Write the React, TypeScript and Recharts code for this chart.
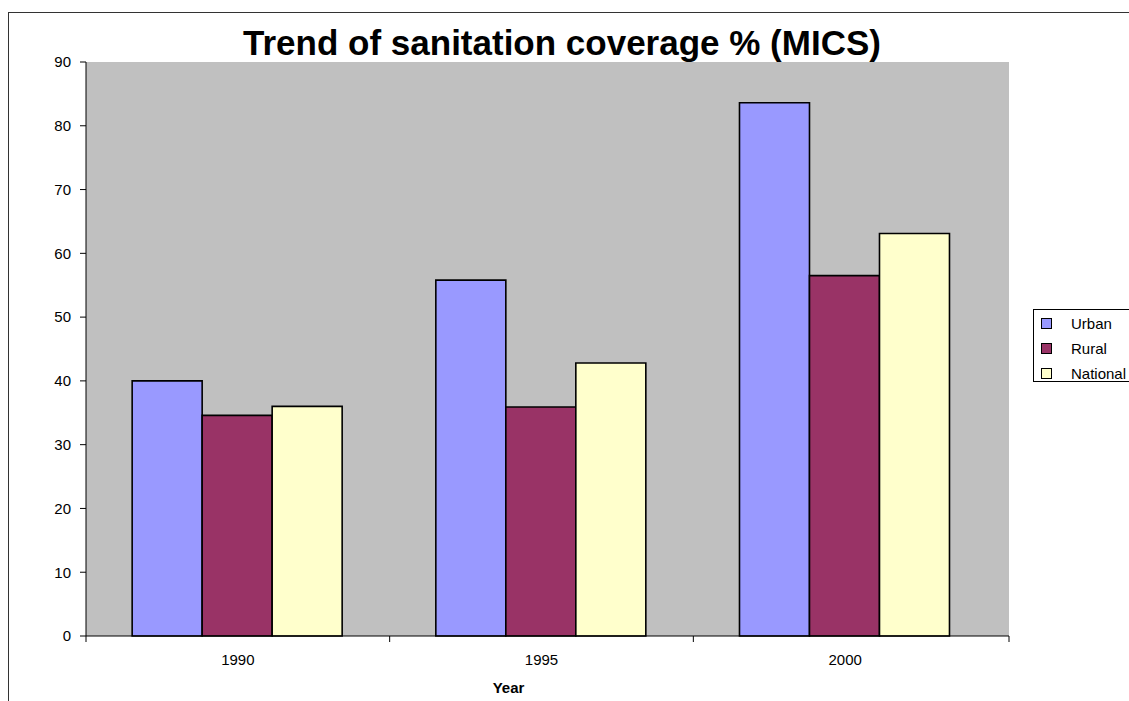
import React from 'react';
import { BarChart, Bar, XAxis, YAxis, CartesianGrid } from 'recharts';

// Sanitation coverage (%) by survey year
const years = ['1990', '1995', '2000'];
const urban = [40.0, 55.8, 83.6];
const rural = [34.6, 35.9, 56.5];
const national = [36.0, 42.8, 63.1];
const yTicks = [0, 10, 20, 30, 40, 50, 60, 70, 80, 90];

const series = [
  { key: 'urban', name: 'Urban', color: '#9999FF' },
  { key: 'rural', name: 'Rural', color: '#993366' },
  { key: 'national', name: 'National', color: '#FFFFCC' },
];

const data = years.map((year, i) => ({
  year,
  urban: urban[i],
  rural: rural[i],
  national: national[i],
}));

const W = 1129;
const H = 701;
const MARGIN = { top: 62, right: 120, bottom: 0, left: 0 };
const Y_AXIS_W = 86;
const X_AXIS_H = 65;
const PAD_RIGHT = 12;
const PLOT_W = W - MARGIN.left - MARGIN.right - Y_AXIS_W;
const BAND = (PLOT_W - PAD_RIGHT) / years.length;
const FONT = '"Liberation Sans", Arial, Helvetica, sans-serif';

// Category tick: marks sit on the boundaries between categories, label in the middle
function YearTick(props: any) {
  const { x, y, payload, index, visibleTicksCount } = props;
  const left = x - BAND / 2;
  const right = x + BAND / 2 + PAD_RIGHT;
  return (
    <g>
      <line x1={left} x2={left} y1={y} y2={y + 6} stroke="#000" strokeWidth={1} />
      {index === visibleTicksCount - 1 && (
        <line x1={right} x2={right} y1={y} y2={y + 6} stroke="#000" strokeWidth={1} />
      )}
      <text x={x} y={y + 29} textAnchor="middle" fontSize={15} fill="#000" fontFamily={FONT}>
        {payload.value}
      </text>
    </g>
  );
}

export default function App() {
  return (
    <div
      style={{
        position: 'relative',
        width: W,
        height: H,
        overflow: 'hidden',
        background: '#fff',
        fontFamily: FONT,
      }}
    >
      <style>{'body{margin:0}'}</style>
      <div
        style={{
          position: 'absolute',
          left: 8,
          top: 12,
          width: W + 50,
          height: H + 50,
          borderLeft: '1px solid #333',
          borderTop: '1px solid #333',
        }}
      />
      <div
        style={{
          position: 'absolute',
          left: 0,
          top: 0,
          width: W,
        }}
      >
        <BarChart
          width={W}
          height={H}
          data={data}
          margin={MARGIN}
          barCategoryGap="15.2%"
          barGap={0}
        >
          <CartesianGrid fill="#C0C0C0" vertical={false} horizontal={false} />
          <XAxis
            dataKey="year"
            height={X_AXIS_H}
            padding={{ left: 0, right: PAD_RIGHT }}
            axisLine={{ stroke: '#000', strokeWidth: 1 }}
            tickLine={false}
            tickSize={0}
            tickMargin={0}
            tick={<YearTick />}
            interval={0}
            label={{
              value: 'Year',
              position: 'insideBottom',
              offset: 8,
              dx: -39,
              fontSize: 15,
              fontWeight: 'bold',
              fill: '#000',
              fontFamily: FONT,
            }}
          />
          <YAxis
            width={Y_AXIS_W}
            domain={[0, 90]}
            ticks={yTicks}
            interval={0}
            axisLine={{ stroke: '#000', strokeWidth: 1 }}
            tickLine={{ stroke: '#000', strokeWidth: 1 }}
            tickSize={6}
            tickMargin={9}
            tick={{ fontSize: 15, fill: '#000', fontFamily: FONT }}
          />
          {series.map((s) => (
            <Bar
              key={s.key}
              dataKey={s.key}
              name={s.name}
              fill={s.color}
              stroke="#000"
              strokeWidth={1.6}
              isAnimationActive={false}
            />
          ))}
        </BarChart>
      </div>
      <div
        style={{
          position: 'absolute',
          left: 0,
          width: 1124,
          top: 25,
          textAlign: 'center',
          fontSize: 35,
          fontWeight: 'bold',
          lineHeight: 1,
          color: '#000',
          whiteSpace: 'nowrap',
        }}
      >
        Trend of sanitation coverage % (MICS)
      </div>
      <div
        style={{
          position: 'absolute',
          left: 1033,
          top: 309,
          width: 160,
          height: 73,
          border: '1px solid #000',
          background: '#fff',
          boxSizing: 'border-box',
        }}
      >
        {series.map((s, i) => (
          <div
            key={s.key}
            style={{
              position: 'absolute',
              left: 0,
              top: 4 + i * 25,
              height: 18,
              display: 'flex',
              alignItems: 'center',
              fontSize: 15,
              color: '#000',
              whiteSpace: 'nowrap',
            }}
          >
            <span
              style={{
                display: 'inline-block',
                width: 9,
                height: 9,
                marginLeft: 7,
                border: '1px solid #000',
                background: s.color,
              }}
            />
            <span style={{ marginLeft: 19 }}>{s.name}</span>
          </div>
        ))}
      </div>
    </div>
  );
}
